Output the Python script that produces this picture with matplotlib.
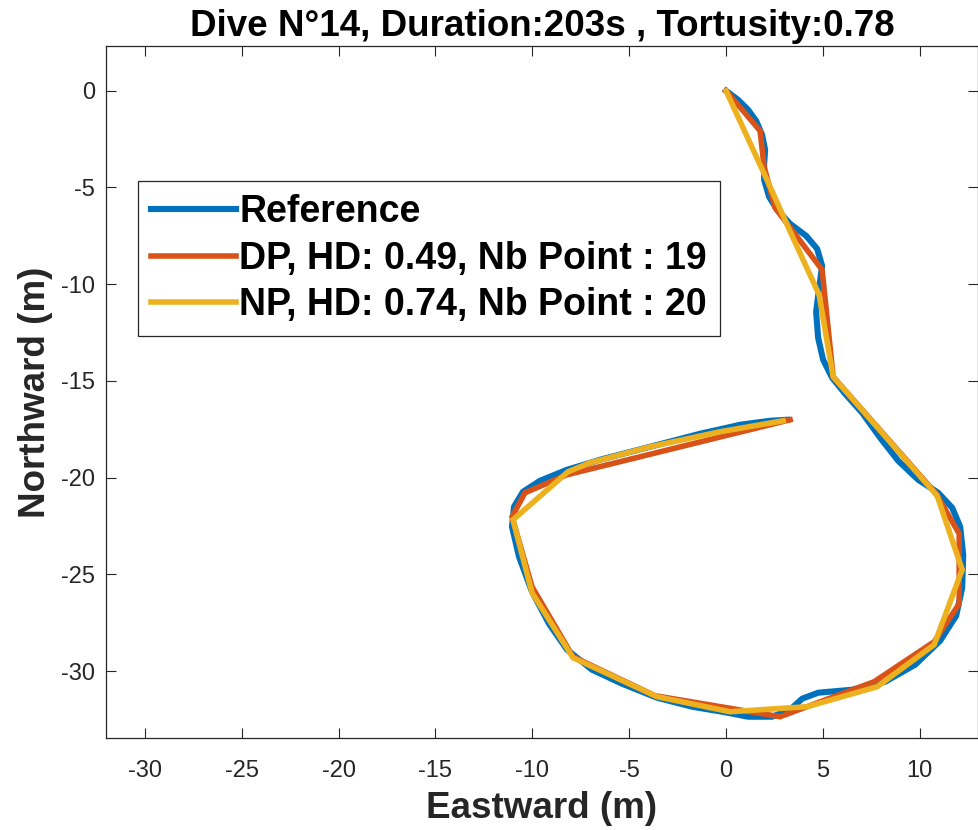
import matplotlib
matplotlib.use("Agg")
import matplotlib.pyplot as plt
import numpy as np

plt.rcParams['font.family'] = ['Liberation Sans', 'DejaVu Sans']
plt.rcParams['axes.unicode_minus'] = False

# ---- data (metres) ----
ref_px = [(726,91),(738,100),(748,110),(756,121),(762,135),(765,150),(764,165),(764,180),
          (769,197),(777,210),(790,224),(806,236),(817,249),(822,266),(819,288),(816,312),
          (818,338),(823,360),(832,378),(845,394),(862,413),(880,438),(898,461),(918,480),
          (938,493),(952,508),(960,527),(963,555),(962,588),(956,616),(940,641),(915,665),
          (885,682),(852,690),(818,693),(802,699),(790,710),(772,717),(748,717),(722,712),
          (692,707),(657,698),(622,684),(592,670),(567,650),(549,624),(532,592),(519,557),
          (512,527),(514,507),(523,492),(540,481),(567,470),(600,460),(650,447),(700,434),
          (740,425),(770,421),(787,420)]
dp_px = [(726,91),(760,131),(764,167),(775,208),(822,270),(833,377),(936,494),(959,534),
         (959,604),(934,642),(874,682),(780,717),(655,696),(573,657),(532,587),
         (512,517),(525,493),(567,475),(790,420)]
np_px = [(726,91),(765,176),(792,236),(819,295),(833,377),(937,496),(962,570),(934,645),
         (877,687),(807,707),(730,712),(657,697),(573,658),(532,593),(513,520),(568,472),
         (590,463),(650,447),(720,432),(783,421)]

def to_m(pts):
    px = np.array(pts, dtype=float)
    return (px[:, 0] - 726.0) / 19.37, (90.7 - px[:, 1]) / 19.36

ref_x, ref_y = to_m(ref_px)
dp_x, dp_y = to_m(dp_px)
np_x, np_y = to_m(np_px)

labels = ["Reference", "DP, HD: 0.49, Nb Point : 19", "NP, HD: 0.74, Nb Point : 20"]
colors = ["#0072BD", "#D95319", "#EDB120"]
title = "Dive N°14, Duration:203s , Tortusity:0.78"
xticks = [-30, -25, -20, -15, -10, -5, 0, 5, 10]
yticks = [0, -5, -10, -15, -20, -25, -30]

fig = plt.figure(figsize=(9.79, 8.30), dpi=100)
ax = fig.add_axes([106/979, 92/830, 872/979, 692/830])

ax.plot(ref_x, ref_y, color=colors[0], lw=4.4, label=labels[0], solid_joinstyle='round')
ax.plot(dp_x, dp_y, color=colors[1], lw=4.0, label=labels[1], solid_joinstyle='miter')
ax.plot(np_x, np_y, color=colors[2], lw=4.0, label=labels[2], solid_joinstyle='miter')

ax.set_xlim(-32, 13)
ax.set_ylim(-33.45, 2.3)
ax.set_xticks(xticks)
ax.set_yticks(yticks)
ax.tick_params(direction='in', length=7, width=0.8, top=True, right=True,
               labelsize=17, colors='#262626')
ax.tick_params(axis='x', pad=16)
ax.tick_params(axis='y', pad=8)
for s in ax.spines.values():
    s.set_color('#262626')
    s.set_linewidth(0.9)

ax.set_title(title, fontsize=26.5, fontweight='bold', pad=7)
ax.set_xlabel("Eastward (m)", fontsize=26.5, fontweight='bold', color='#262626', labelpad=6)
ax.set_ylabel("Northward (m)", fontsize=26.5, fontweight='bold', color='#262626', labelpad=6)

leg = ax.legend(loc='upper left', bbox_to_anchor=((138-106)/872, (738-181)/692),
                borderaxespad=0, prop={'weight': 'bold', 'size': 27},
                handlelength=2.25, handletextpad=0.1, labelspacing=0.28,
                borderpad=0.35, fancybox=False, framealpha=1, edgecolor='#262626')
leg.get_frame().set_linewidth(0.9)

fig.savefig("out.png", dpi=100)
